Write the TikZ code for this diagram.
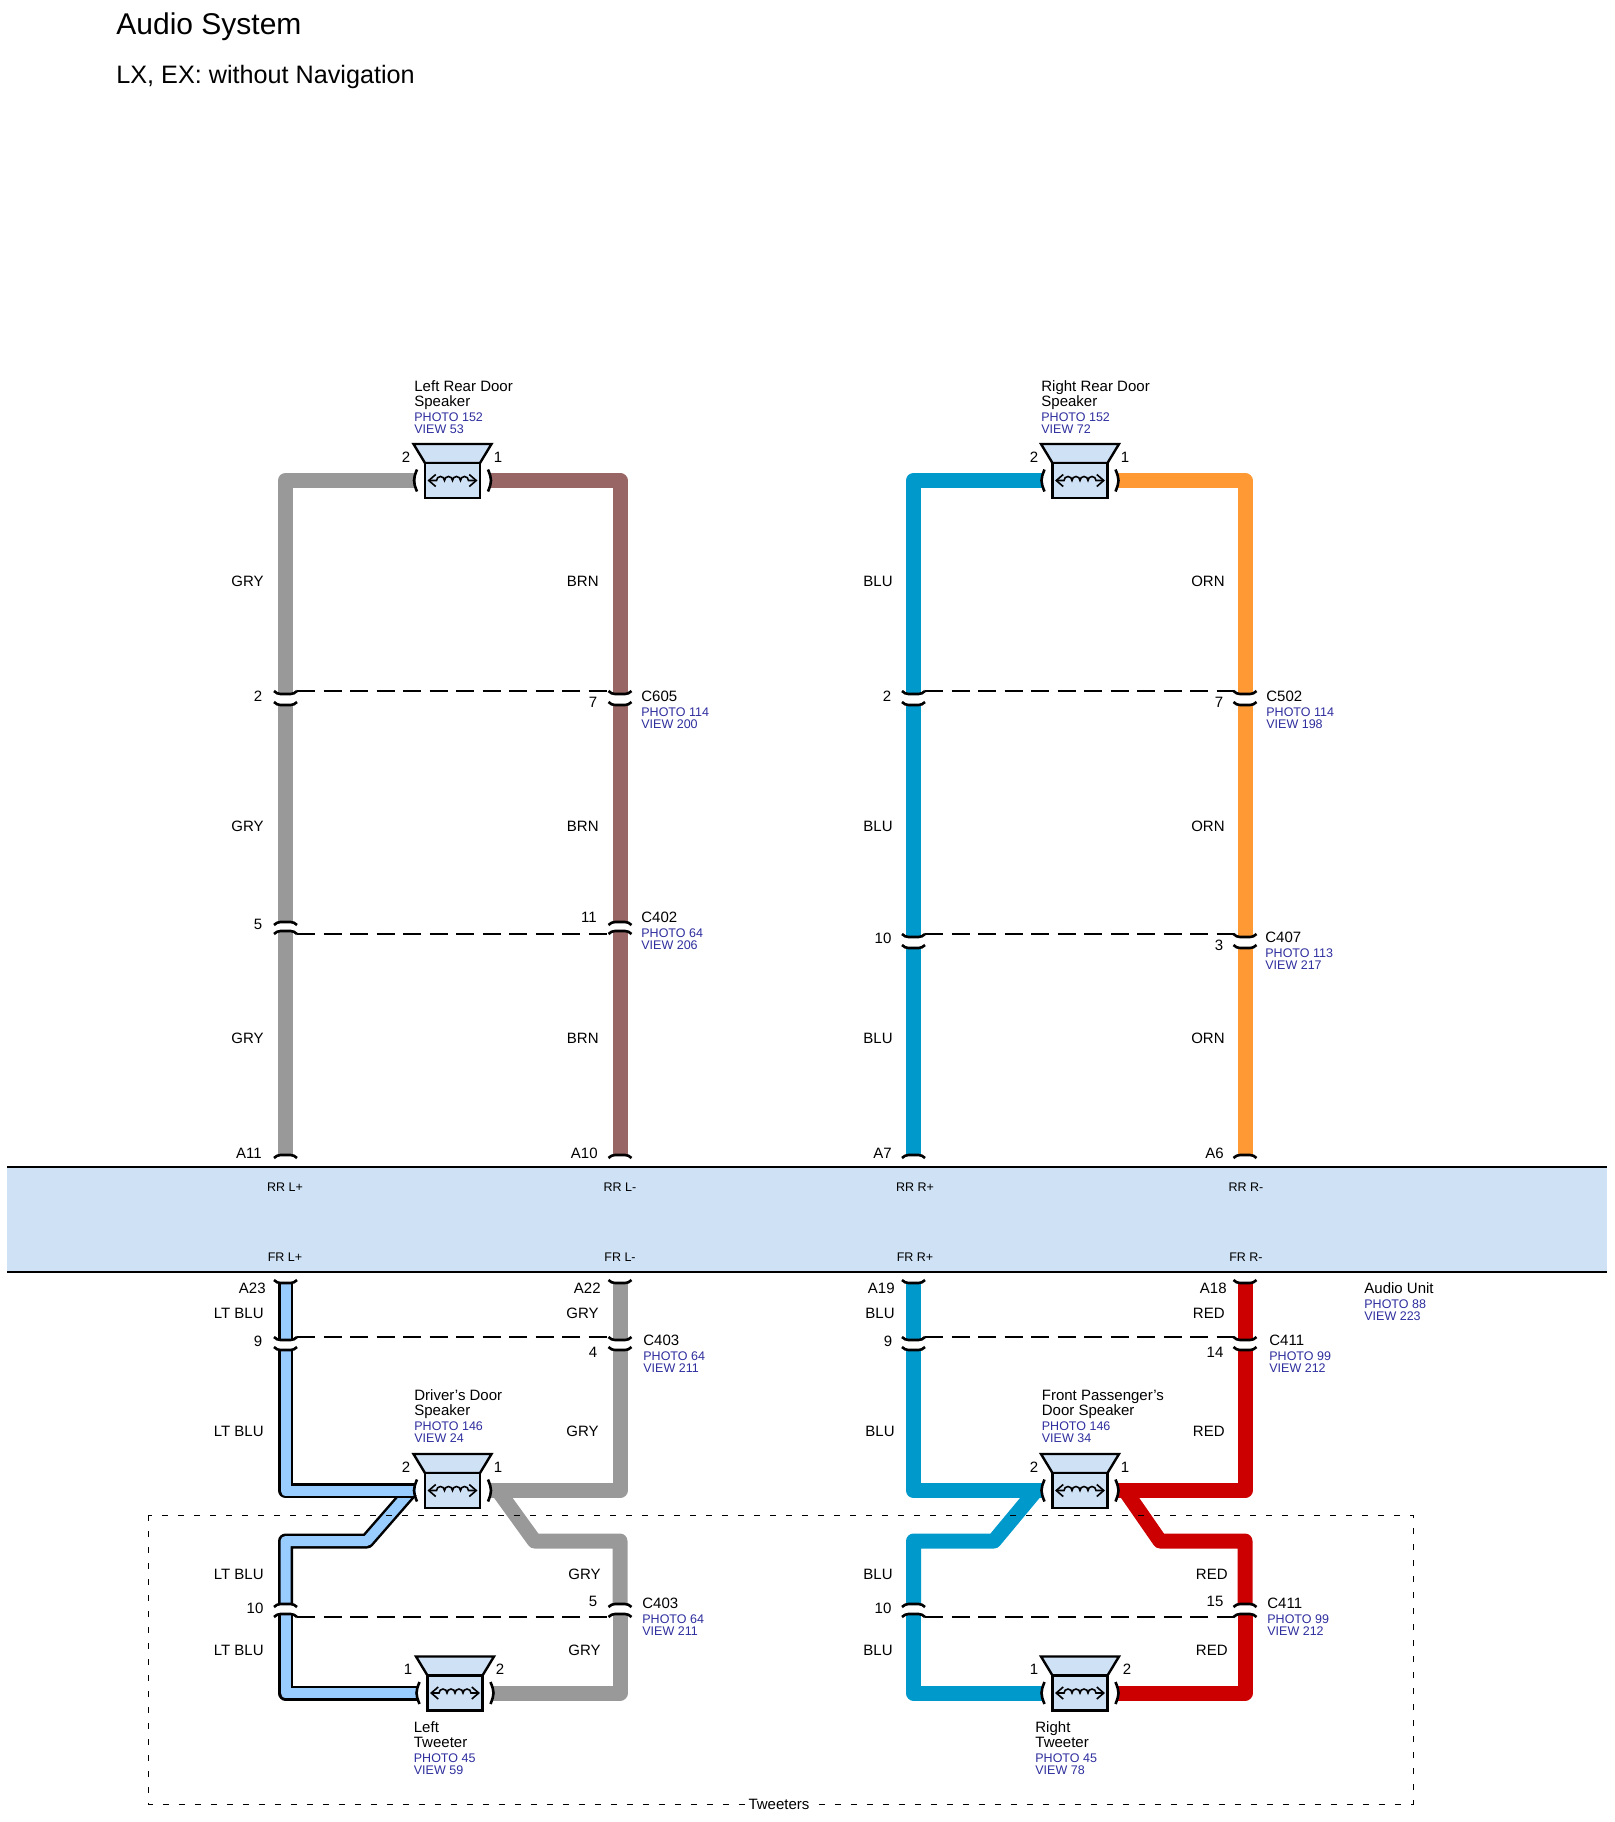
\documentclass[tikz,border=0pt]{standalone}
\usepackage{fontspec}
\setmainfont{Liberation Sans}
\usetikzlibrary{backgrounds,arrows.meta}
\definecolor{wiregry}{HTML}{999999}
\definecolor{wirebrn}{HTML}{996666}
\definecolor{wireblu}{HTML}{0099CC}
\definecolor{wireorn}{HTML}{FF9933}
\definecolor{wirered}{HTML}{CC0000}
\definecolor{wireltblu}{HTML}{99CCFF}
\definecolor{unitblue}{HTML}{CEE1F5}
\definecolor{refblue}{HTML}{2E2E9E}
\newcommand{\namefont}{\fontsize{7.5}{7.5}\selectfont}
\newcommand{\reffont}{\fontsize{6.25}{7.5}\selectfont\color{refblue}}
\newcommand{\refs}[2]{\\[0pt]\reffont PHOTO #1\\[-1.5pt]\reffont VIEW #2}
\newcommand{\jacks}[5]{\pic[#5] (#1a) at (#2,#3) {jack}; \pic[#5] (#1b) at (#2,#4) {jack};}
\tikzset{
  wire/.style={line width=7.5pt,line join=round},
  wgry/.style={wire,draw=wiregry},
  wbrn/.style={wire,draw=wirebrn},
  wblu/.style={wire,draw=wireblu},
  worn/.style={wire,draw=wireorn},
  wred/.style={wire,draw=wirered},
  wlt/.style={line width=1.25pt,draw=black,double=wireltblu,double distance=5pt,line join=round},
  shield/.style={line width=1pt,dash pattern=on 9pt off 4.25pt},
  groupbox/.style={line width=0.5pt,dash pattern=on 3pt off 5pt},
  part/.style={font=\namefont,align=left,anchor=north west,inner sep=0pt},
  lab/.style={font=\namefont,inner sep=0pt,text height=5.2pt,text depth=0pt},
  wirelab/.style={lab,anchor=east},
  pinlab/.style={lab,anchor=center},
  unitlab/.style={font=\fontsize{6.25}{7.5}\selectfont,inner sep=0pt,text height=4.5pt,text depth=0pt},
  flip/.style={yscale=-1},
  jack/.pic={
    \draw[line width=1.3pt] (-11.5,-3) .. controls (-9,-1) and (-8,0) .. (-5,0) -- (5,0)
        .. controls (8,0) and (9,-1) .. (11.5,-3);
    \coordinate (-c) at (0,0);
    \coordinate (-l) at (-11.5,-3);
    \coordinate (-r) at (11.5,-3);
  },
  speaker/.pic={
    \draw[line width=1.2pt,fill=unitblue,line join=miter] (-39,-36.5) -- (39,-36.5) -- (27.5,-17.5) -- (-27.5,-17.5) -- cycle;
    \draw[line width=1.2pt,fill=unitblue] (-27.5,-17.5) rectangle (27.5,17.5);
    \draw[line width=0.8pt,{Straight Barb[length=3.5pt,width=6pt]}-{Straight Barb[length=3.5pt,width=6pt]}]
        (-25,0) -- (-16,0) arc[start angle=180,end angle=360,radius=4] arc[start angle=180,end angle=360,radius=4]
        arc[start angle=180,end angle=360,radius=4] arc[start angle=180,end angle=360,radius=4] -- (25,0);
    \draw[line width=1.3pt] (-35.5,-11) .. controls (-37.5,-6) and (-38.5,-3) .. (-38.5,0) .. controls (-38.5,3) and (-37.5,6) .. (-35.5,11);
    \draw[line width=1.3pt] (35.5,-11) .. controls (37.5,-6) and (38.5,-3) .. (38.5,0) .. controls (38.5,3) and (37.5,6) .. (35.5,11);
    \coordinate (-l) at (-37,0);
    \coordinate (-r) at (37,0);
  },
}
\begin{document}
\begin{tikzpicture}[x=0.5pt,y=-0.5pt]
    \useasboundingbox (0,0) rectangle (1614,1822);

    \node[font=\fontsize{15}{16}\selectfont,inner sep=0pt,anchor=west] (title) at (116,27) {Audio System};
    \node[font=\fontsize{12.6}{14}\selectfont,inner sep=0pt,anchor=west] (subtitle) at (116,77) {LX, EX: without Navigation};

    %Speakers
    \pic (lrd) at (452.5,480.5) {speaker};
    \pic (rrd) at (1080,480.5) {speaker};
    \pic (drv) at (452.5,1490.5) {speaker};
    \pic (fps) at (1080,1490.5) {speaker};
    \pic (twl) at (455,1693) {speaker};
    \pic (twr) at (1080,1693) {speaker};

    %Connectors
    \jacks{cfl}{285.5}{694}{705}{}
    \jacks{cfr}{620}{694}{705}{}
    \jacks{cgl}{285.5}{922}{931}{flip}
    \jacks{cgr}{620}{922}{931}{flip}
    \jacks{chl}{913.5}{694}{705}{}
    \jacks{chr}{1245}{694}{705}{}
    \jacks{cil}{913.5}{937}{948}{}
    \jacks{cir}{1245}{937}{948}{}
    \jacks{cjl}{285.5}{1340}{1350}{}
    \jacks{cjr}{620}{1340}{1350}{}
    \jacks{ckl}{913.5}{1340}{1350}{}
    \jacks{ckr}{1245}{1340}{1350}{}
    \jacks{cll}{285.5}{1604}{1614}{flip}
    \jacks{clr}{620}{1604}{1614}{flip}
    \jacks{cml}{913.5}{1604}{1614}{flip}
    \jacks{cmr}{1245}{1604}{1614}{flip}

    %Unit terminals
    \pic[flip] (a11) at (285.5,1155) {jack};
    \pic[flip] (a10) at (620,1155) {jack};
    \pic[flip] (a7) at (913.5,1155) {jack};
    \pic[flip] (a6) at (1245,1155) {jack};
    \pic (a23) at (285.5,1283) {jack};
    \pic (a22) at (620,1283) {jack};
    \pic (a19) at (913.5,1283) {jack};
    \pic (a18) at (1245,1283) {jack};

    \coordinate (bandtl) at (7,1167);
    \coordinate (bandtr) at (1607,1167);
    \coordinate (bandbl) at (7,1272);
    \coordinate (bandbr) at (1607,1272);

    \coordinate (kll) at (411,1490.5);
    \coordinate (klm) at (367,1541);
    \coordinate (krl) at (498,1490.5);
    \coordinate (krm) at (534.5,1541);
    \coordinate (kbl) at (1036,1490.5);
    \coordinate (kbm) at (994,1541);
    \coordinate (kcl) at (1125,1490.5);
    \coordinate (kcm) at (1160,1541);

    \begin{scope}[on background layer]
    \fill[unitblue] (bandtl) rectangle (bandbr);
    \draw[wgry] (lrd-l) -| (cfla-c);
    \draw[wgry] (cflb-c) -- (cgla-c);
    \draw[wgry] (cglb-c) -- (a11-c);
    \draw[wbrn] (lrd-r) -| (cfra-c);
    \draw[wbrn] (cfrb-c) -- (cgra-c);
    \draw[wbrn] (cgrb-c) -- (a10-c);
    \draw[wblu] (rrd-l) -| (chla-c);
    \draw[wblu] (chlb-c) -- (cila-c);
    \draw[wblu] (cilb-c) -- (a7-c);
    \draw[worn] (rrd-r) -| (chra-c);
    \draw[worn] (chrb-c) -- (cira-c);
    \draw[worn] (cirb-c) -- (a6-c);

    \draw[wlt] (a23-c) -- (cjla-c);
    \draw[wlt] (kll) -- (klm) -| (clla-c);
    \draw[wlt] (cjlb-c) |- (drv-l);
    \draw[wlt] (cllb-c) |- (twl-l);
    \draw[wgry] (a22-c) -- (cjra-c);
    \draw[wgry] (krl) -- (krm) -| (clra-c);
    \draw[wgry] (cjrb-c) |- (drv-r);
    \draw[wgry] (clrb-c) |- (twl-r);
    \draw[wblu] (a19-c) -- (ckla-c);
    \draw[wblu] (kbl) -- (kbm) -| (cmla-c);
    \draw[wblu] (cklb-c) |- (fps-l);
    \draw[wblu] (cmlb-c) |- (twr-l);
    \draw[wred] (a18-c) -- (ckra-c);
    \draw[wred] (kcl) -- (kcm) -| (cmra-c);
    \draw[wred] (ckrb-c) |- (fps-r);
    \draw[wred] (cmrb-c) |- (twr-r);
    \end{scope}

    \draw[line width=1pt] (bandtl) -- (bandtr);
    \draw[line width=1pt] (bandbl) -- (bandbr);

    %Shield lines
    \draw[shield] (cfla-r) -- (cfra-l);
    \draw[shield] (cglb-r) -- (cgrb-l);
    \draw[shield] (chla-r) -- (chra-l);
    \draw[shield] (cila-r) -- (cira-l);
    \draw[shield] (cjla-r) -- (cjra-l);
    \draw[shield] (ckla-r) -- (ckra-l);
    \draw[shield] (cllb-r) -- (clrb-l);
    \draw[shield] (cmlb-r) -- (cmrb-l);

    \draw[groupbox] (148,1515) coordinate (boxtl) rectangle (1413,1804) coordinate (boxbr);
    \node[lab,fill=white,inner xsep=2pt] (tweeters) at (779,1804) {Tweeters};

    %Part labels
    \node[part] (lrdname) at (414,380) {Left Rear Door\\Speaker\refs{152}{53}};
    \node[part] (rrdname) at (1041,380) {Right Rear Door\\Speaker\refs{152}{72}};
    \node[part] (drvname) at (414,1389) {Driver's Door\\Speaker\refs{146}{24}};
    \node[part] (fpsname) at (1041.5,1389.5) {Front Passenger's\\Door Speaker\refs{146}{34}};
    \node[part] (twlname) at (413.5,1721) {Left\\Tweeter\refs{45}{59}};
    \node[part] (twrname) at (1035,1721) {Right\\Tweeter\refs{45}{78}};
    \node[part] (unitname) at (1364,1282) {Audio Unit\refs{88}{223}};
    \node[part] (c605) at (641,690.5) {C605\refs{114}{200}};
    \node[part] (c502) at (1266,690.5) {C502\refs{114}{198}};
    \node[part] (c402) at (641,912) {C402\refs{64}{206}};
    \node[part] (c407) at (1265,932) {C407\refs{113}{217}};
    \node[part] (c403a) at (643,1335) {C403\refs{64}{211}};
    \node[part] (c411a) at (1269,1335) {C411\refs{99}{212}};
    \node[part] (c403b) at (642,1598) {C403\refs{64}{211}};
    \node[part] (c411b) at (1267,1598) {C411\refs{99}{212}};

    %Wire colours
    \node[wirelab] (g1) at (264,581) {GRY};
    \node[wirelab] (g2) at (264,826) {GRY};
    \node[wirelab] (g3) at (264,1038) {GRY};
    \node[wirelab] (b1) at (599,581) {BRN};
    \node[wirelab] (b2) at (599,826) {BRN};
    \node[wirelab] (b3) at (599,1038) {BRN};
    \node[wirelab] (u1) at (893,581) {BLU};
    \node[wirelab] (u2) at (893,826) {BLU};
    \node[wirelab] (u3) at (893,1038) {BLU};
    \node[wirelab] (o1) at (1225,581) {ORN};
    \node[wirelab] (o2) at (1225,826) {ORN};
    \node[wirelab] (o3) at (1225,1038) {ORN};
    \node[wirelab] (t1) at (264,1313) {LT BLU};
    \node[wirelab] (t2) at (264,1431) {LT BLU};
    \node[wirelab] (t3) at (264,1574) {LT BLU};
    \node[wirelab] (t4) at (264,1650) {LT BLU};
    \node[wirelab] (g4) at (599,1313) {GRY};
    \node[wirelab] (g5) at (599,1431) {GRY};
    \node[wirelab] (g6) at (601,1574) {GRY};
    \node[wirelab] (g7) at (601,1650) {GRY};
    \node[wirelab] (u4) at (895,1313) {BLU};
    \node[wirelab] (u5) at (895,1431) {BLU};
    \node[wirelab] (u6) at (893,1574) {BLU};
    \node[wirelab] (u7) at (893,1650) {BLU};
    \node[wirelab] (r1) at (1225,1313) {RED};
    \node[wirelab] (r2) at (1225,1431) {RED};
    \node[wirelab] (r3) at (1228,1574) {RED};
    \node[wirelab] (r4) at (1228,1650) {RED};

    %Terminal names
    \node[wirelab] (la11) at (262,1153) {A11};
    \node[wirelab] (la10) at (598,1153) {A10};
    \node[wirelab] (la7) at (892,1153) {A7};
    \node[wirelab] (la6) at (1224,1153) {A6};
    \node[wirelab] (la23) at (266,1288) {A23};
    \node[wirelab] (la22) at (601,1288) {A22};
    \node[wirelab] (la19) at (895,1288) {A19};
    \node[wirelab] (la18) at (1227,1288) {A18};

    %Unit pin names
    \node[unitlab] (rrlp) at (285,1187) {RR L+};
    \node[unitlab] (rrlm) at (620,1187) {RR L-};
    \node[unitlab] (rrrp) at (915,1187) {RR R+};
    \node[unitlab] (rrrm) at (1246,1187) {RR R-};
    \node[unitlab] (frlp) at (285,1257) {FR L+};
    \node[unitlab] (frlm) at (620,1257) {FR L-};
    \node[unitlab] (frrp) at (915,1257) {FR R+};
    \node[unitlab] (frrm) at (1246,1257) {FR R-};

    %Pin numbers
    \node[pinlab] (p1) at (406,457) {2};
    \node[pinlab] (p2) at (498,457) {1};
    \node[pinlab] (p3) at (1034,457) {2};
    \node[pinlab] (p4) at (1125,457) {1};
    \node[pinlab] (p5) at (406,1467) {2};
    \node[pinlab] (p6) at (498,1467) {1};
    \node[pinlab] (p7) at (1034,1467) {2};
    \node[pinlab] (p8) at (1125,1467) {1};
    \node[pinlab] (p9) at (408,1669) {1};
    \node[pinlab] (p10) at (500,1669) {2};
    \node[pinlab] (p11) at (1034,1669) {1};
    \node[pinlab] (p12) at (1127,1669) {2};
    \node[pinlab] (p13) at (258,696) {2};
    \node[pinlab] (p14) at (593,702) {7};
    \node[pinlab] (p15) at (258,924) {5};
    \node[pinlab] (p16) at (589,917) {11};
    \node[pinlab] (p17) at (887,696) {2};
    \node[pinlab] (p18) at (1219,702) {7};
    \node[pinlab] (p19) at (883,938) {10};
    \node[pinlab] (p20) at (1219,945) {3};
    \node[pinlab] (p21) at (258,1341) {9};
    \node[pinlab] (p22) at (593,1352) {4};
    \node[pinlab] (p23) at (888,1341) {9};
    \node[pinlab] (p24) at (1215,1352) {14};
    \node[pinlab] (p25) at (255,1608) {10};
    \node[pinlab] (p26) at (593,1601) {5};
    \node[pinlab] (p27) at (883,1608) {10};
    \node[pinlab] (p28) at (1215,1601) {15};
\end{tikzpicture}
\end{document}
